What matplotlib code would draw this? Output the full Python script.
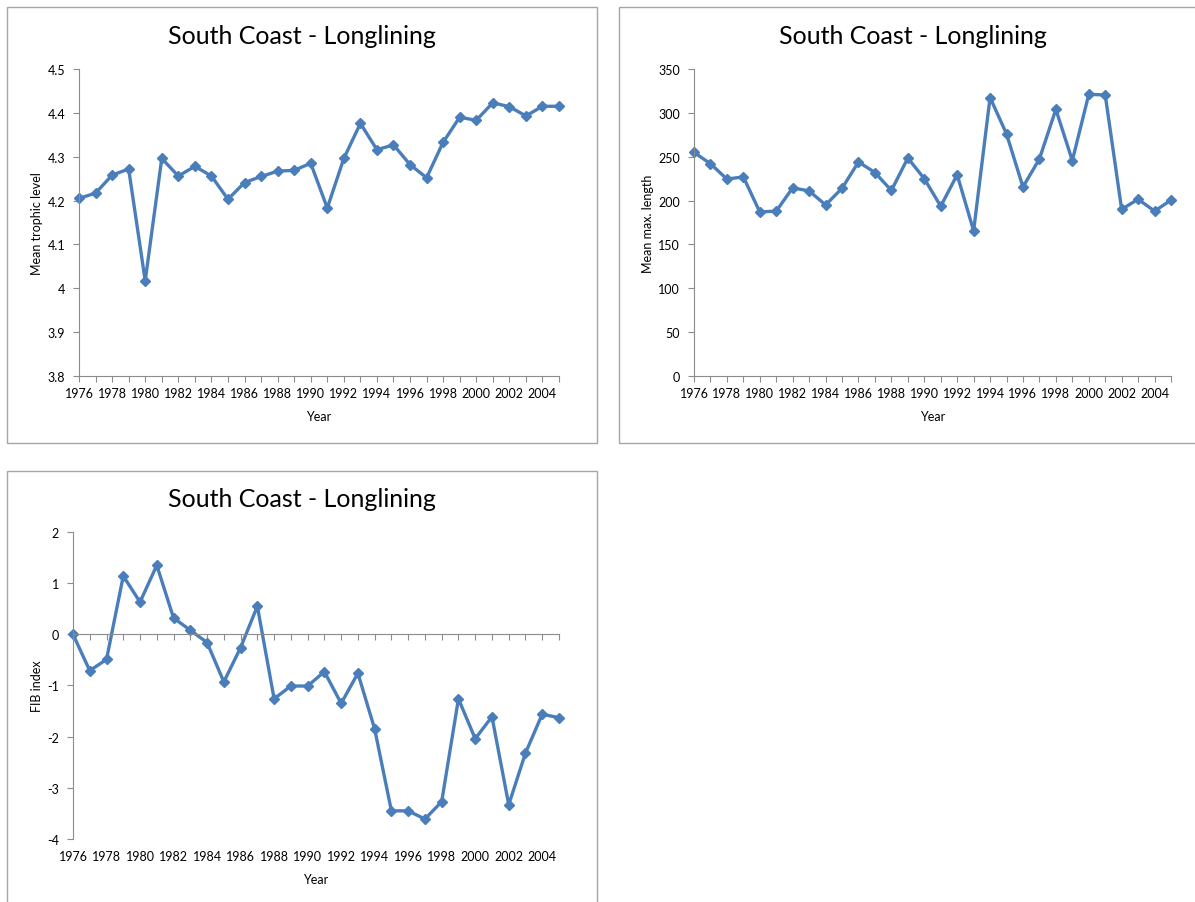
import numpy as np
import matplotlib
matplotlib.use('Agg')
from matplotlib import pyplot as plt
from matplotlib.patches import Rectangle

plt.rcParams['font.family'] = ['Lato', 'DejaVu Sans']

years = np.arange(1976, 2006)

# mean trophic level
mtl = [4.205, 4.217, 4.258, 4.272, 4.017, 4.296, 4.256, 4.278, 4.256, 4.203,
       4.241, 4.255, 4.267, 4.269, 4.285, 4.183, 4.296, 4.376, 4.316, 4.327,
       4.282, 4.252, 4.333, 4.390, 4.383, 4.423, 4.414, 4.393, 4.415, 4.415]

# mean max. length
mml = [255, 242, 224.5, 227, 187, 188, 214.5, 211, 195, 214,
       244, 232, 211.5, 248.5, 225, 193.5, 229.5, 165.5, 317.5, 276,
       215.5, 247.5, 304, 245.5, 321, 320.5, 190, 201.5, 188, 200.5]

# FIB index
fib = [0.0, -0.71, -0.49, 1.14, 0.63, 1.35, 0.32, 0.08, -0.16, -0.93,
       -0.26, 0.55, -1.26, -1.01, -1.01, -0.73, -1.35, -0.76, -1.85, -3.45,
       -3.45, -3.61, -3.27, -1.26, -2.04, -1.61, -3.33, -2.32, -1.56, -1.63]

title = 'South Coast - Longlining'
W, H = 1195., 903.
blue = '#4A7EBB'
grey = '#8C8C8C'

fig = plt.figure(figsize=(W/100, H/100), dpi=100)

def px_axes(l, r, t, b):
    return fig.add_axes([l/W, 1-b/H, (r-l)/W, (b-t)/H])

def box(l, r, t, b):
    fig.patches.append(Rectangle((l/W, 1-b/H), (r-l)/W, (b-t)/H, transform=fig.transFigure,
                                 fill=False, edgecolor='#A6A6A6', lw=1.0))
    # chart title centred on the chart box
    fig.text((l+r)/2/W, 1-(t+28)/H, title, fontsize=18, ha='center', va='center')

xlabs = [str(y) if (y-1976) % 2 == 0 else '' for y in years]

def style(ax, ylab, ylim, yticks, zero_axis=False):
    ax.set_xlim(1976, 2005)
    ax.set_ylim(*ylim)
    ax.set_yticks(yticks)
    ax.set_yticklabels([('%g' % v) for v in yticks], fontsize=9)
    for s in ['top', 'right']:
        ax.spines[s].set_visible(False)
    ax.spines['left'].set_color(grey)
    ax.spines['bottom'].set_color(grey)
    ax.tick_params(axis='y', direction='out', length=4, color=grey, pad=6)
    ax.set_ylabel(ylab, fontsize=9, labelpad=3)
    ax.set_xticks(years)
    if zero_axis:
        ax.spines['bottom'].set_position(('data', 0))
        ax.set_xticklabels([''] * len(years))
        ax.tick_params(axis='x', direction='out', length=4, color=grey)
        sec = ax.secondary_xaxis('bottom')
        sec.set_xticks(years)
        sec.set_xticklabels(xlabs, fontsize=9)
        sec.tick_params(length=0, pad=8)
        sec.spines['bottom'].set_visible(False)
        sec.set_xlabel('Year', fontsize=9, labelpad=8)
    else:
        ax.set_xticklabels(xlabs, fontsize=9)
        ax.tick_params(axis='x', direction='out', length=4, color=grey, pad=4)
        ax.set_xlabel('Year', fontsize=9, labelpad=8)

# panel 1
box(7, 597, 8, 444)
ax1 = px_axes(79, 559, 70, 377)
ax1.plot(years, mtl, color=blue, lw=2.4, marker='D', ms=5.5, clip_on=False)
style(ax1, 'Mean trophic level', (3.8, 4.5), np.round(np.arange(3.8, 4.51, 0.1), 1))

# panel 2
box(619, 1207, 8, 444)
ax2 = px_axes(694, 1171, 70, 377)
ax2.plot(years, mml, color=blue, lw=2.4, marker='D', ms=5.5, clip_on=False)
style(ax2, 'Mean max. length', (0, 350), np.arange(0, 351, 50))

# panel 3
box(7, 597, 472, 910)
ax3 = px_axes(73, 559, 533, 840)
ax3.plot(years, fib, color=blue, lw=2.4, marker='D', ms=5.5, clip_on=False)
style(ax3, 'FIB index', (-4, 2), np.arange(-4, 3, 1), zero_axis=True)

fig.savefig('out.png', dpi=100)
